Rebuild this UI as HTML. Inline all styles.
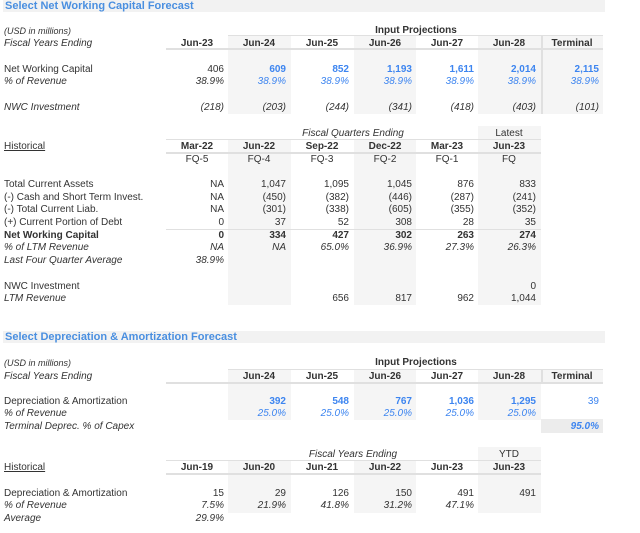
<!DOCTYPE html>
<html><head><meta charset="utf-8"><style>
body{margin:0;width:640px;height:533px;background:#fff;font-family:"Liberation Sans",sans-serif;font-size:10px;color:#333;position:relative;overflow:hidden}
div{position:absolute;white-space:nowrap}
.t{left:3px;width:600px;height:12px;background:#f2f2f2;color:#4a8fe0;font-weight:bold;font-size:11px;line-height:12px;padding-left:2px}
.l{left:4px}
.i{font-style:italic}
.b{font-weight:bold}
.u{text-decoration:underline}
.bl{color:#3d85f0}
.r{text-align:right;width:58px}
.c{text-align:center;width:62px}
.sh{background:#f5f5f5}
.hl{height:2px;background:#e0e0e0}
.vl{width:2px;background:#e0e0e0}
</style></head><body>
<!-- Section 1 -->
<div class="t" style="top:0">Select Net Working Capital Forecast</div>
<div class="sh" style="left:228px;top:36px;width:63px;height:78px"></div>
<div class="sh" style="left:354px;top:36px;width:62px;height:78px"></div>
<div class="sh" style="left:478px;top:36px;width:63px;height:78px"></div>
<div class="sh" style="left:541px;top:36px;width:62px;height:78px"></div>
<div class="vl" style="left:541px;top:36px;height:78px"></div>
<div class="hl" style="left:166px;top:48px;width:437px"></div>
<div class="hl" style="left:228px;top:35px;width:375px;height:1px"></div>
<div class="l i" style="top:26px;font-size:9px">(USD in millions)</div>
<div class="c b" style="left:354px;top:25px;width:124px">Input Projections</div>
<div class="l i" style="top:38px">Fiscal Years Ending</div>
<div class="c b" style="left:166px;top:38px">Jun-23</div>
<div class="c b" style="left:228px;top:38px">Jun-24</div>
<div class="c b" style="left:291px;top:38px">Jun-25</div>
<div class="c b" style="left:354px;top:38px">Jun-26</div>
<div class="c b" style="left:416px;top:38px">Jun-27</div>
<div class="c b" style="left:478px;top:38px">Jun-28</div>
<div class="c b" style="left:541px;top:38px">Terminal</div>

<div class="l" style="top:64px">Net Working Capital</div>
<div class="r" style="left:166px;top:64px">406</div>
<div class="r bl b" style="left:228px;top:64px">609</div>
<div class="r bl b" style="left:291px;top:64px">852</div>
<div class="r bl b" style="left:354px;top:64px">1,193</div>
<div class="r bl b" style="left:416px;top:64px">1,611</div>
<div class="r bl b" style="left:478px;top:64px">2,014</div>
<div class="r bl b" style="left:541px;top:64px">2,115</div>
<div class="l i" style="top:76px">% of Revenue</div>
<div class="r i" style="left:166px;top:76px">38.9%</div>
<div class="r i bl" style="left:228px;top:76px">38.9%</div>
<div class="r i bl" style="left:291px;top:76px">38.9%</div>
<div class="r i bl" style="left:354px;top:76px">38.9%</div>
<div class="r i bl" style="left:416px;top:76px">38.9%</div>
<div class="r i bl" style="left:478px;top:76px">38.9%</div>
<div class="r i bl" style="left:541px;top:76px">38.9%</div>
<div class="l i" style="top:102px">NWC Investment</div>
<div class="r i" style="left:166px;top:102px">(218)</div>
<div class="r i" style="left:228px;top:102px">(203)</div>
<div class="r i" style="left:291px;top:102px">(244)</div>
<div class="r i" style="left:354px;top:102px">(341)</div>
<div class="r i" style="left:416px;top:102px">(418)</div>
<div class="r i" style="left:478px;top:102px">(403)</div>
<div class="r i" style="left:541px;top:102px">(101)</div>

<!-- Section 2 -->
<div class="sh" style="left:228px;top:140px;width:63px;height:165px"></div>
<div class="sh" style="left:354px;top:140px;width:62px;height:165px"></div>
<div class="sh" style="left:478px;top:126px;width:63px;height:179px"></div>
<div class="hl" style="left:166px;top:152px;width:375px"></div>
<div class="hl" style="left:166px;top:139px;width:375px;height:1px"></div>
<div class="hl" style="left:166px;top:229px;width:375px;height:1px"></div>
<div class="i" style="left:228px;top:128px;width:250px;text-align:center">Fiscal Quarters Ending</div>
<div class="c" style="left:478px;top:128px">Latest</div>
<div class="l u" style="top:141px">Historical</div>
<div class="c b" style="left:166px;top:141px">Mar-22</div>
<div class="c b" style="left:228px;top:141px">Jun-22</div>
<div class="c b" style="left:291px;top:141px">Sep-22</div>
<div class="c b" style="left:354px;top:141px">Dec-22</div>
<div class="c b" style="left:416px;top:141px">Mar-23</div>
<div class="c b" style="left:478px;top:141px">Jun-23</div>
<div class="c" style="left:166px;top:154px">FQ-5</div>
<div class="c" style="left:228px;top:154px">FQ-4</div>
<div class="c" style="left:291px;top:154px">FQ-3</div>
<div class="c" style="left:354px;top:154px">FQ-2</div>
<div class="c" style="left:416px;top:154px">FQ-1</div>
<div class="c" style="left:478px;top:154px">FQ</div>

<div class="l" style="top:179px">Total Current Assets</div>
<div class="r" style="left:166px;top:179px">NA</div><div class="r" style="left:228px;top:179px">1,047</div><div class="r" style="left:291px;top:179px">1,095</div><div class="r" style="left:354px;top:179px">1,045</div><div class="r" style="left:416px;top:179px">876</div><div class="r" style="left:478px;top:179px">833</div>
<div class="l" style="top:192px">(-) Cash and Short Term Invest.</div>
<div class="r" style="left:166px;top:192px">NA</div><div class="r" style="left:228px;top:192px">(450)</div><div class="r" style="left:291px;top:192px">(382)</div><div class="r" style="left:354px;top:192px">(446)</div><div class="r" style="left:416px;top:192px">(287)</div><div class="r" style="left:478px;top:192px">(241)</div>
<div class="l" style="top:204px">(-) Total Current Liab.</div>
<div class="r" style="left:166px;top:204px">NA</div><div class="r" style="left:228px;top:204px">(301)</div><div class="r" style="left:291px;top:204px">(338)</div><div class="r" style="left:354px;top:204px">(605)</div><div class="r" style="left:416px;top:204px">(355)</div><div class="r" style="left:478px;top:204px">(352)</div>
<div class="l" style="top:217px">(+) Current Portion of Debt</div>
<div class="r" style="left:166px;top:217px">0</div><div class="r" style="left:228px;top:217px">37</div><div class="r" style="left:291px;top:217px">52</div><div class="r" style="left:354px;top:217px">308</div><div class="r" style="left:416px;top:217px">28</div><div class="r" style="left:478px;top:217px">35</div>
<div class="l b" style="top:230px">Net Working Capital</div>
<div class="r b" style="left:166px;top:230px">0</div><div class="r b" style="left:228px;top:230px">334</div><div class="r b" style="left:291px;top:230px">427</div><div class="r b" style="left:354px;top:230px">302</div><div class="r b" style="left:416px;top:230px">263</div><div class="r b" style="left:478px;top:230px">274</div>
<div class="l i" style="top:242px">% of LTM Revenue</div>
<div class="r i" style="left:166px;top:242px">NA</div><div class="r i" style="left:228px;top:242px">NA</div><div class="r i" style="left:291px;top:242px">65.0%</div><div class="r i" style="left:354px;top:242px">36.9%</div><div class="r i" style="left:416px;top:242px">27.3%</div><div class="r i" style="left:478px;top:242px">26.3%</div>
<div class="l i" style="top:255px">Last Four Quarter Average</div>
<div class="r i" style="left:166px;top:255px">38.9%</div>
<div class="l" style="top:281px">NWC Investment</div>
<div class="r" style="left:478px;top:281px">0</div>
<div class="l i" style="top:293px">LTM Revenue</div>
<div class="r" style="left:291px;top:293px">656</div><div class="r" style="left:354px;top:293px">817</div><div class="r" style="left:416px;top:293px">962</div><div class="r" style="left:478px;top:293px">1,044</div>

<!-- Section 3 -->
<div class="t" style="top:331px">Select Depreciation &amp; Amortization Forecast</div>
<div class="sh" style="left:228px;top:370px;width:63px;height:50px"></div>
<div class="sh" style="left:354px;top:370px;width:62px;height:50px"></div>
<div class="sh" style="left:478px;top:370px;width:63px;height:50px"></div>
<div class="sh" style="left:541px;top:370px;width:62px;height:14px"></div>
<div style="left:541px;top:419px;width:62px;height:14px;background:#ececec"></div>
<div class="vl" style="left:541px;top:370px;height:14px"></div>
<div class="hl" style="left:228px;top:369px;width:375px;height:1px"></div>
<div class="hl" style="left:166px;top:382px;width:437px"></div>
<div class="l i" style="top:358px;font-size:9px">(USD in millions)</div>
<div class="c b" style="left:354px;top:357px;width:124px">Input Projections</div>
<div class="l i" style="top:371px">Fiscal Years Ending</div>
<div class="c b" style="left:228px;top:371px">Jun-24</div>
<div class="c b" style="left:291px;top:371px">Jun-25</div>
<div class="c b" style="left:354px;top:371px">Jun-26</div>
<div class="c b" style="left:416px;top:371px">Jun-27</div>
<div class="c b" style="left:478px;top:371px">Jun-28</div>
<div class="c b" style="left:541px;top:371px">Terminal</div>
<div class="l" style="top:396px">Depreciation &amp; Amortization</div>
<div class="r bl b" style="left:228px;top:396px">392</div><div class="r bl b" style="left:291px;top:396px">548</div><div class="r bl b" style="left:354px;top:396px">767</div><div class="r bl b" style="left:416px;top:396px">1,036</div><div class="r bl b" style="left:478px;top:396px">1,295</div><div class="r bl" style="left:541px;top:396px">39</div>
<div class="l i" style="top:408px">% of Revenue</div>
<div class="r i bl" style="left:228px;top:408px">25.0%</div><div class="r i bl" style="left:291px;top:408px">25.0%</div><div class="r i bl" style="left:354px;top:408px">25.0%</div><div class="r i bl" style="left:416px;top:408px">25.0%</div><div class="r i bl" style="left:478px;top:408px">25.0%</div>
<div class="l i" style="top:421px">Terminal Deprec. % of Capex</div>
<div class="r i bl b" style="left:541px;top:421px">95.0%</div>

<!-- Section 4 -->
<div class="sh" style="left:228px;top:461px;width:63px;height:52px"></div>
<div class="sh" style="left:354px;top:461px;width:62px;height:52px"></div>
<div class="sh" style="left:478px;top:447px;width:63px;height:66px"></div>
<div class="hl" style="left:166px;top:460px;width:375px;height:1px"></div>
<div class="hl" style="left:166px;top:473px;width:375px"></div>
<div class="i" style="left:228px;top:449px;width:250px;text-align:center">Fiscal Years Ending</div>
<div class="c" style="left:478px;top:449px">YTD</div>
<div class="l u" style="top:462px">Historical</div>
<div class="c b" style="left:166px;top:462px">Jun-19</div>
<div class="c b" style="left:228px;top:462px">Jun-20</div>
<div class="c b" style="left:291px;top:462px">Jun-21</div>
<div class="c b" style="left:354px;top:462px">Jun-22</div>
<div class="c b" style="left:416px;top:462px">Jun-23</div>
<div class="c b" style="left:478px;top:462px">Jun-23</div>
<div class="l" style="top:488px">Depreciation &amp; Amortization</div>
<div class="r" style="left:166px;top:488px">15</div><div class="r" style="left:228px;top:488px">29</div><div class="r" style="left:291px;top:488px">126</div><div class="r" style="left:354px;top:488px">150</div><div class="r" style="left:416px;top:488px">491</div><div class="r" style="left:478px;top:488px">491</div>
<div class="l i" style="top:500px">% of Revenue</div>
<div class="r i" style="left:166px;top:500px">7.5%</div><div class="r i" style="left:228px;top:500px">21.9%</div><div class="r i" style="left:291px;top:500px">41.8%</div><div class="r i" style="left:354px;top:500px">31.2%</div><div class="r i" style="left:416px;top:500px">47.1%</div>
<div class="l i" style="top:513px">Average</div>
<div class="r i" style="left:166px;top:513px">29.9%</div>
</body></html>
